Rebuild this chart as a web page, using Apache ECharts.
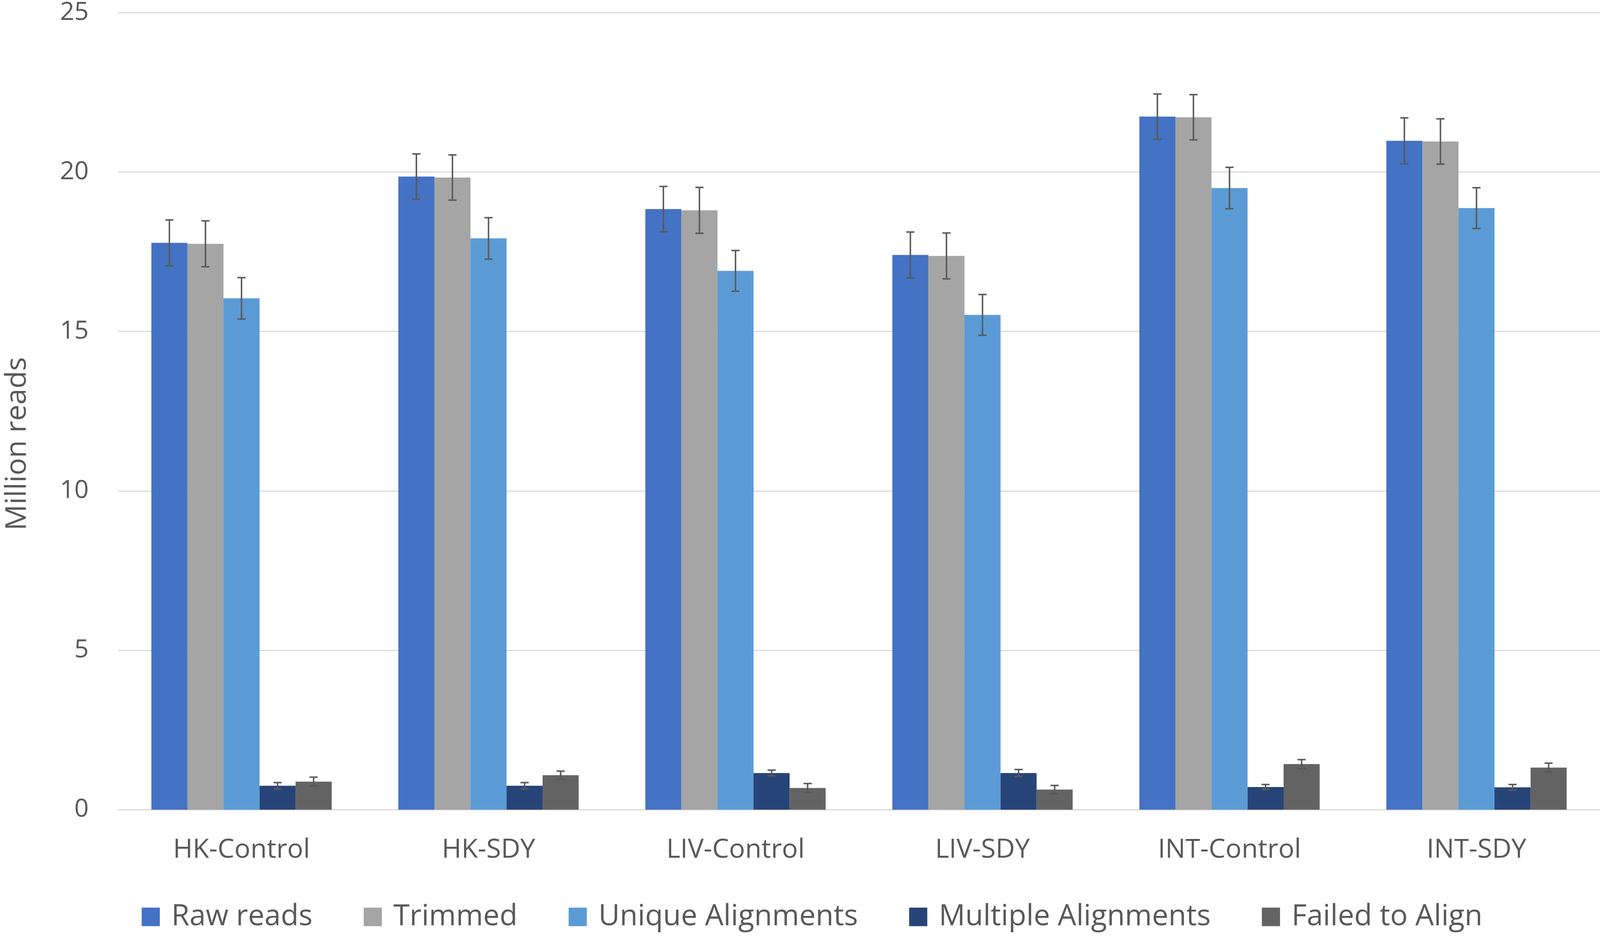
<!DOCTYPE html>
<html>
<head>
<meta charset="utf-8">
<script src="https://cdn.jsdelivr.net/npm/echarts@6/dist/echarts.min.js"></script>
<style>
  html, body { margin: 0; padding: 0; background: #fff; overflow: hidden; }
  #chart { width: 100vw; height: 100vh; }
</style>
</head>
<body>
<div id="chart"></div>
<script>
// 样本组
const categories = ['HK-Control', 'HK-SDY', 'LIV-Control', 'LIV-SDY', 'INT-Control', 'INT-SDY'];
const seriesNames = ['Raw reads', 'Trimmed', 'Unique Alignments', 'Multiple Alignments', 'Failed to Align'];
const yTicks = [0, 5, 10, 15, 20, 25];

// million reads, mean
const rawReads = [17.78, 19.86, 18.84, 17.40, 21.74, 20.98];
const trimmed = [17.75, 19.83, 18.80, 17.37, 21.72, 20.96];
const uniqueAlign = [16.04, 17.92, 16.90, 15.52, 19.50, 18.87];
const multipleAlign = [0.75, 0.75, 1.15, 1.15, 0.71, 0.70];
const failedAlign = [0.88, 1.08, 0.68, 0.63, 1.43, 1.32];

// error bars (+/-)
const rawReadsErr = [0.72, 0.71, 0.71, 0.72, 0.71, 0.72];
const trimmedErr = [0.72, 0.71, 0.72, 0.72, 0.71, 0.71];
const uniqueAlignErr = [0.65, 0.65, 0.64, 0.64, 0.65, 0.64];
const multipleAlignErr = [0.10, 0.10, 0.09, 0.11, 0.08, 0.09];
const failedAlignErr = [0.14, 0.13, 0.14, 0.13, 0.14, 0.14];

const colors = ['#4472C4', '#A5A5A5', '#5B9BD5', '#264478', '#636363'];
const textColor = '#595959';
const font = 'Open Sans';
const catGap = 0.27;

const values = [rawReads, trimmed, uniqueAlign, multipleAlign, failedAlign];
const errs = [rawReadsErr, trimmedErr, uniqueAlignErr, multipleAlignErr, failedAlignErr];

const errData = [];
values.forEach(function (arr, s) {
    arr.forEach(function (v, c) {
        errData.push([c, s, v, errs[s][c]]);
    });
});

const chart = echarts.init(document.getElementById('chart'));

// layout was measured on a 4317 x 2399 canvas; scale to whatever we get
const W = chart.getWidth();
const H = chart.getHeight();
const sx = W / 4317;
const sy = H / 2399;
const k = Math.min(sx, sy);

const barSeries = values.map(function (arr, i) {
    return {
        name: seriesNames[i],
        type: 'bar',
        data: arr,
        barGap: 0,
        barCategoryGap: (catGap * 100) + '%',
        itemStyle: { color: colors[i] },
    };
});

const errSeries = {
    type: 'custom',
    data: errData,
    encode: { x: 0, y: 2 },
    z: 10,
    silent: true,
    renderItem: function (params, api) {
        const cat = api.value(0);
        const s = api.value(1);
        const v = api.value(2);
        const e = api.value(3);
        const bw = api.size([1, 0])[0];
        const barW = bw * (1 - catGap) / seriesNames.length;
        const x = api.coord([cat, 0])[0] - bw * (1 - catGap) / 2 + barW * (s + 0.5);
        const top = api.coord([cat, v + e])[1];
        const bot = api.coord([cat, v - e])[1];
        const cap = 11 * k;
        const style = { stroke: textColor, lineWidth: 4 * k };
        return {
            type: 'group',
            children: [
                { type: 'line', shape: { x1: x, y1: top, x2: x, y2: bot }, style: style },
                { type: 'line', shape: { x1: x - cap, y1: top, x2: x + cap, y2: top }, style: style },
                { type: 'line', shape: { x1: x - cap, y1: bot, x2: x + cap, y2: bot }, style: style },
            ],
        };
    },
};

const option = {
    backgroundColor: '#fff',
    animation: false,
    textStyle: { fontFamily: font },
    grid: { left: 311 * sx, right: 0, top: 32 * sy, bottom: 326 * sy },
    legend: {
        data: seriesNames,
        left: 377 * sx,
        top: 2305 * sy,
        itemWidth: 49 * k,
        itemHeight: 50 * k,
        itemGap: 138 * sx,
        icon: 'rect',
        textStyle: { fontFamily: font, fontSize: 79 * k, color: textColor, padding: [0, 0, 0, 26 * k] },
    },
    xAxis: {
        type: 'category',
        data: categories,
        axisLine: { lineStyle: { color: '#D9D9D9', width: 3 * k } },
        axisTick: { show: false },
        axisLabel: { fontFamily: font, fontSize: 72 * k, color: textColor, margin: 70 * sy },
    },
    yAxis: {
        type: 'value',
        min: yTicks[0],
        max: yTicks[yTicks.length - 1],
        interval: yTicks[1] - yTicks[0],
        name: 'Million reads',
        nameLocation: 'middle',
        nameGap: 232 * sx,
        nameTextStyle: { fontFamily: font, fontSize: 78 * k, color: textColor, padding: [0, 176 * k, 0, 0] },
        axisLine: { show: false },
        axisTick: { show: false },
        axisLabel: { fontFamily: font, fontSize: 68 * k, color: textColor, margin: 79 * sx },
        splitLine: { lineStyle: { color: '#D9D9D9', width: 3 * k } },
    },
    series: barSeries.concat([errSeries]),
};

chart.setOption(option);
</script>
</body>
</html>
